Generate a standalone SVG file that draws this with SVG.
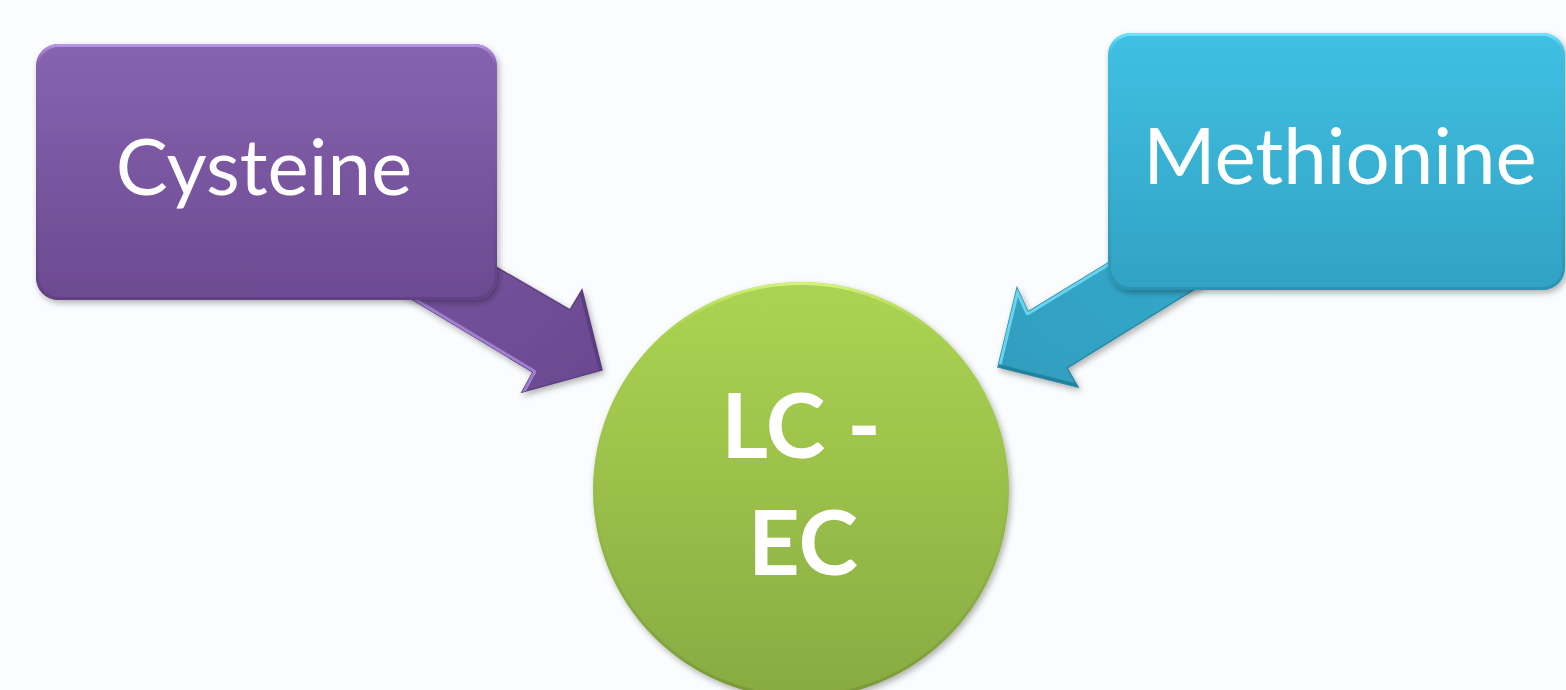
<svg xmlns="http://www.w3.org/2000/svg" width="1566" height="690" viewBox="0 0 1566 690">
<defs>
<linearGradient id="gPurple" x1="0" y1="0" x2="0" y2="1">
<stop offset="0" stop-color="#8763B0"/><stop offset="1" stop-color="#6C4A91"/>
</linearGradient>
<linearGradient id="gBlue" x1="0" y1="0" x2="0" y2="1">
<stop offset="0" stop-color="#3FC0E3"/><stop offset="1" stop-color="#32A2C3"/>
</linearGradient>
<linearGradient id="gGreen" x1="0" y1="0" x2="0" y2="1">
<stop offset="0" stop-color="#ACD452"/><stop offset="1" stop-color="#88AB42"/>
</linearGradient>
<linearGradient id="gPurpleArrow" x1="0" y1="0" x2="1" y2="1">
<stop offset="0" stop-color="#7E5AA6"/><stop offset="1" stop-color="#6A4990"/>
</linearGradient>
<linearGradient id="gBlueArrow" x1="1" y1="0" x2="0" y2="1">
<stop offset="0" stop-color="#37B1D4"/><stop offset="1" stop-color="#2F9DBE"/>
</linearGradient>
<linearGradient id="gEdgeP" x1="0" y1="0" x2="0" y2="1">
<stop offset="0" stop-color="#B893E6"/><stop offset="0.1" stop-color="#8763B0" stop-opacity="0"/><stop offset="1" stop-color="#5A3C7C" stop-opacity="0.6"/>
</linearGradient>
<linearGradient id="gEdgeB" x1="0" y1="0" x2="0" y2="1">
<stop offset="0" stop-color="#6DE4FF"/><stop offset="0.1" stop-color="#3FC0E3" stop-opacity="0"/><stop offset="1" stop-color="#2688A6" stop-opacity="0.6"/>
</linearGradient>
<linearGradient id="gEdgeG" x1="0" y1="0" x2="0" y2="1">
<stop offset="0" stop-color="#D4F27A"/><stop offset="0.15" stop-color="#ACD452" stop-opacity="0"/><stop offset="1" stop-color="#6E8C34" stop-opacity="0.6"/>
</linearGradient>
<clipPath id="clipP"><polygon points="300,153 570,310 582,290 602,370 522,392 533,372 300,232"/></clipPath>
<clipPath id="clipB"><polygon points="1300,146 1028,312 1017,288 998,367 1078,387 1067,368 1300,224"/></clipPath>
<filter id="shadow" x="-10%" y="-10%" width="125%" height="125%">
<feDropShadow dx="2" dy="3" stdDeviation="3" flood-color="#000" flood-opacity="0.3"/>
</filter>
</defs>
<style>
.lbl{fill:#FFFFFF;font-family:"Lato","Open Sans","Liberation Sans",sans-serif;text-anchor:middle}
.reg{font-size:78px;font-weight:400}
.bold{font-size:90px;font-weight:700}
.hl{fill:none;stroke-width:6;stroke-linejoin:round}
</style>
<rect width="1566" height="690" fill="#FBFCFD"/>
<g id="connectors">
<g id="arrow-cysteine">
<polygon points="300,153 570,310 582,290 602,370 522,392 533,372 300,232" fill="url(#gPurpleArrow)" stroke="#5E4082" stroke-width="1.5" filter="url(#shadow)"/>
<polyline class="hl" clip-path="url(#clipP)" points="300,232 533,372 522,392" stroke="#9F80D0"/>
<polyline class="hl" clip-path="url(#clipP)" points="582,290 602,370" stroke="#5A3D80" stroke-width="4"/>
</g>
<g id="arrow-methionine">
<polygon points="1300,146 1028,312 1017,288 998,367 1078,387 1067,368 1300,224" fill="url(#gBlueArrow)" stroke="#2A8BA8" stroke-width="1.5" filter="url(#shadow)"/>
<polyline class="hl" clip-path="url(#clipB)" points="1300,146 1028,312 1017,288 998,367" stroke="#6AD3EE"/>
<polyline class="hl" clip-path="url(#clipB)" points="998,367 1078,387" stroke="#24809C" stroke-width="4"/>
</g>
</g>
<g id="cysteine">
<rect x="36" y="44" width="461" height="256" rx="22" fill="url(#gPurple)" filter="url(#shadow)"/>
<rect x="37.5" y="45.5" width="458" height="253" rx="21" fill="none" stroke="url(#gEdgeP)" stroke-width="3"/>
<text class="lbl reg" x="264" y="195">Cysteine</text>
</g>
<g id="methionine">
<rect x="1108" y="33" width="457" height="257" rx="22" fill="url(#gBlue)" filter="url(#shadow)"/>
<rect x="1109.5" y="34.5" width="454" height="254" rx="21" fill="none" stroke="url(#gEdgeB)" stroke-width="3"/>
<text class="lbl reg" x="1340" y="184">Methionine</text>
</g>
<g id="lcec">
<circle cx="801" cy="490" r="208" fill="url(#gGreen)" filter="url(#shadow)"/>
<circle cx="801" cy="490" r="206.5" fill="none" stroke="url(#gEdgeG)" stroke-width="3"/>
<text class="lbl bold" x="801" y="458">LC -</text>
<text class="lbl bold" x="803" y="575">EC</text>
</g>
</svg>
